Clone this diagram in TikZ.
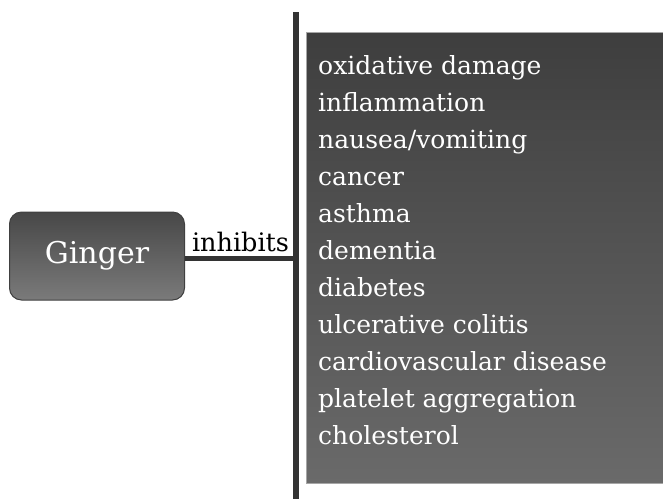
\documentclass[tikz,border=0pt]{standalone}
\usepackage{fontspec}
\setmainfont{DejaVu Serif}
\usetikzlibrary{positioning}
\definecolor{colbar}{HTML}{333333}
\definecolor{colbox}{HTML}{3E3E3E}
\definecolor{colboxlow}{HTML}{6A6A6A}

\begin{document}
\begin{tikzpicture}[x=1pt, y=-1pt,
    every node/.style={font=\fontsize{25}{30}\selectfont},
    herb/.style={rounded corners=12pt, draw=black!75, line width=1pt,
      top color=black!72, bottom color=black!52, minimum width=175pt,
      minimum height=88pt, text=white, font=\fontsize{30}{36}\selectfont},
    listbox/.style={draw=black!35, line width=1pt, top color=colbox,
      bottom color=colboxlow, minimum width=365pt, minimum height=451pt,
      anchor=north west, inner sep=0pt},
    item/.style={anchor=base west, text=white, inner sep=0pt},
    link/.style={line width=5pt, colbar},
    barline/.style={line width=6pt, colbar}]
  \useasboundingbox (0,0) rectangle (663,499);
  \node[herb] (ginger) at (97,256) {Ginger};
  \coordinate (bartop) at (296,12);
  \coordinate (barbot) at (296,499);
  \draw[barline] (bartop) -- (barbot);
  \draw[link] (ginger.east |- 0,258) -- (bartop |- 0,258)
    node[midway, above=4pt, text=black, inner sep=0pt,
      font=\fontsize{25.5}{30}\selectfont] (verb) {inhibits};
  \node[listbox] (effects) at (306,32) {};
  \foreach \t [count=\i] in {oxidative damage, inflammation, nausea/vomiting,
      cancer, asthma, dementia, diabetes, ulcerative colitis,
      cardiovascular disease, platelet aggregation, cholesterol}
    \node[item] (it\i) at (318,{74+37*(\i-1)}) {\t};
\end{tikzpicture}
\end{document}
